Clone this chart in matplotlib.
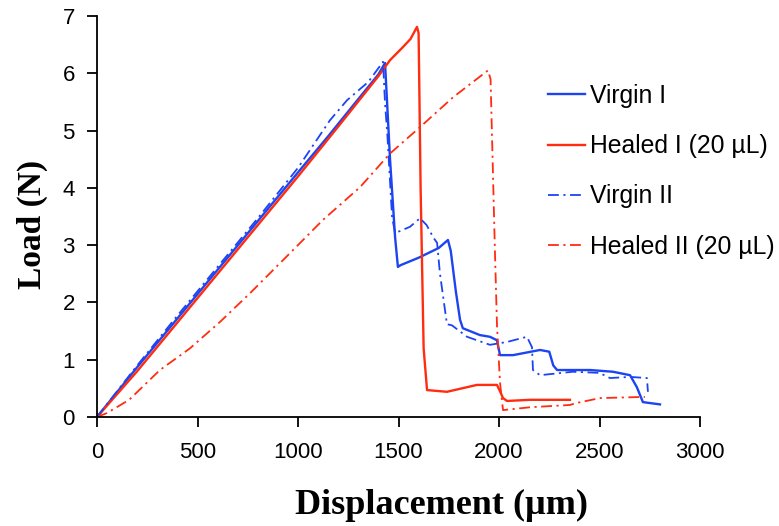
import matplotlib
matplotlib.use("Agg")
import matplotlib.pyplot as plt

# ---- data ----
virgin1_x = [0, 200, 400, 600, 800, 1000, 1150, 1300, 1400, 1433, 1458, 1483, 1497, 1510, 1600, 1700, 1746,
             1760, 1785, 1806, 1820, 1905, 1955, 1990, 2005, 2070, 2204, 2250, 2270, 2289, 2453, 2567, 2652,
             2686, 2716, 2801]
virgin1_y = [0, 0.87, 1.72, 2.57, 3.42, 4.27, 4.9, 5.55, 5.98, 6.18, 4.49, 3.14, 2.62, 2.65, 2.78, 2.95, 3.09,
             2.9, 2.2, 1.7, 1.55, 1.43, 1.40, 1.34, 1.08, 1.08, 1.17, 1.14, 0.90, 0.82, 0.82, 0.79, 0.73,
             0.52, 0.26, 0.22]

virgin2_x = [0, 200, 400, 600, 800, 1000, 1159, 1244, 1350, 1423, 1433, 1445, 1468, 1483, 1557, 1607, 1640,
             1672, 1692, 1706, 1741, 1766, 1841, 1955, 2040, 2139, 2164, 2169, 2204, 2368, 2500, 2552, 2652,
             2736, 2741]
virgin2_y = [0, 0.9, 1.77, 2.62, 3.47, 4.35, 5.18, 5.53, 5.85, 6.2, 5.48, 4.9, 3.49, 3.21, 3.32, 3.47, 3.35,
             3.14, 3.04, 2.51, 1.62, 1.6, 1.4, 1.26, 1.31, 1.40, 1.22, 0.82, 0.73, 0.79, 0.77, 0.68, 0.70,
             0.68, 0.44]

healed1_x = [0, 200, 400, 600, 800, 1000, 1200, 1400, 1458, 1520, 1560, 1592, 1600, 1610, 1625, 1642, 1741,
             1890, 1990, 2005, 2020, 2040, 2154, 2353]
healed1_y = [0, 0.8, 1.65, 2.5, 3.35, 4.2, 5.07, 5.95, 6.23, 6.45, 6.6, 6.81, 6.7, 4.0, 1.2, 0.47, 0.44,
             0.56, 0.56, 0.45, 0.33, 0.28, 0.30, 0.30]

healed2_x = [0, 50, 160, 313, 463, 612, 761, 960, 1124, 1308, 1458, 1607, 1771, 1945, 1958, 1980, 1990, 2005,
             2020, 2154, 2353, 2380, 2502, 2716, 2726]
healed2_y = [0, 0.07, 0.3, 0.82, 1.2, 1.66, 2.16, 2.86, 3.44, 4.01, 4.6, 5.06, 5.58, 6.05, 5.9, 2.86, 1.6, 0.6,
             0.12, 0.17, 0.21, 0.24, 0.33, 0.35, 0.35]

labels = ["Virgin I", "Healed I (20 µL)", "Virgin II", "Healed II (20 µL)"]
x_ticks = [0, 500, 1000, 1500, 2000, 2500, 3000]
y_ticks = [0, 1, 2, 3, 4, 5, 6, 7]

BLUE = "#1C44F2"
RED = "#FF2C10"

plt.rcParams['font.family'] = ['Liberation Sans', 'DejaVu Sans']

fig = plt.figure(figsize=(7.79, 5.26), dpi=100)
ax = fig.add_axes([97/779, 1 - 417/526, 603/779, 401/526])

dashdot = (0, (6, 2.5, 1.2, 2.5))
ax.plot(virgin1_x, virgin1_y, color=BLUE, lw=1.7, label=labels[0])
ax.plot(healed1_x, healed1_y, color=RED, lw=1.7, label=labels[1])
ax.plot(virgin2_x, virgin2_y, color=BLUE, lw=1.3, linestyle=dashdot, label=labels[2])
ax.plot(healed2_x, healed2_y, color=RED, lw=1.3, linestyle=dashdot, label=labels[3])

ax.set_xlim(0, 3000)
ax.set_ylim(0, 7)
ax.set_xticks(x_ticks)
ax.set_yticks(y_ticks)
for s in ['top', 'right']:
    ax.spines[s].set_visible(False)
for s in ['left', 'bottom']:
    ax.spines[s].set_linewidth(1.3)
ax.tick_params(axis='both', direction='out', length=7, width=1.3, labelsize=16)
ax.tick_params(axis='x', pad=11)
ax.tick_params(axis='y', pad=9)

serif = ['Liberation Serif', 'DejaVu Serif']
ax.set_xlabel("Displacement (µm)", fontsize=26, fontweight='bold', family=serif)
ax.set_ylabel("Load (N)", fontsize=24, fontweight='bold', family=serif)
ax.xaxis.set_label_coords((442 - 97) / 603, -(505 - 417) / 401)
ax.yaxis.set_label_coords(-(97 - 32) / 603, (417 - 224) / 401)
ax.xaxis.label.set_va('center')
ax.yaxis.label.set_va('center')

leg = fig.legend(loc='upper left', bbox_to_anchor=(548/779, 1 - 84/526), frameon=False,
                 fontsize=17.8, handlelength=1.5, handletextpad=0.2, labelspacing=1.06,
                 borderpad=0, borderaxespad=0)

fig.savefig("out.png", dpi=100)
